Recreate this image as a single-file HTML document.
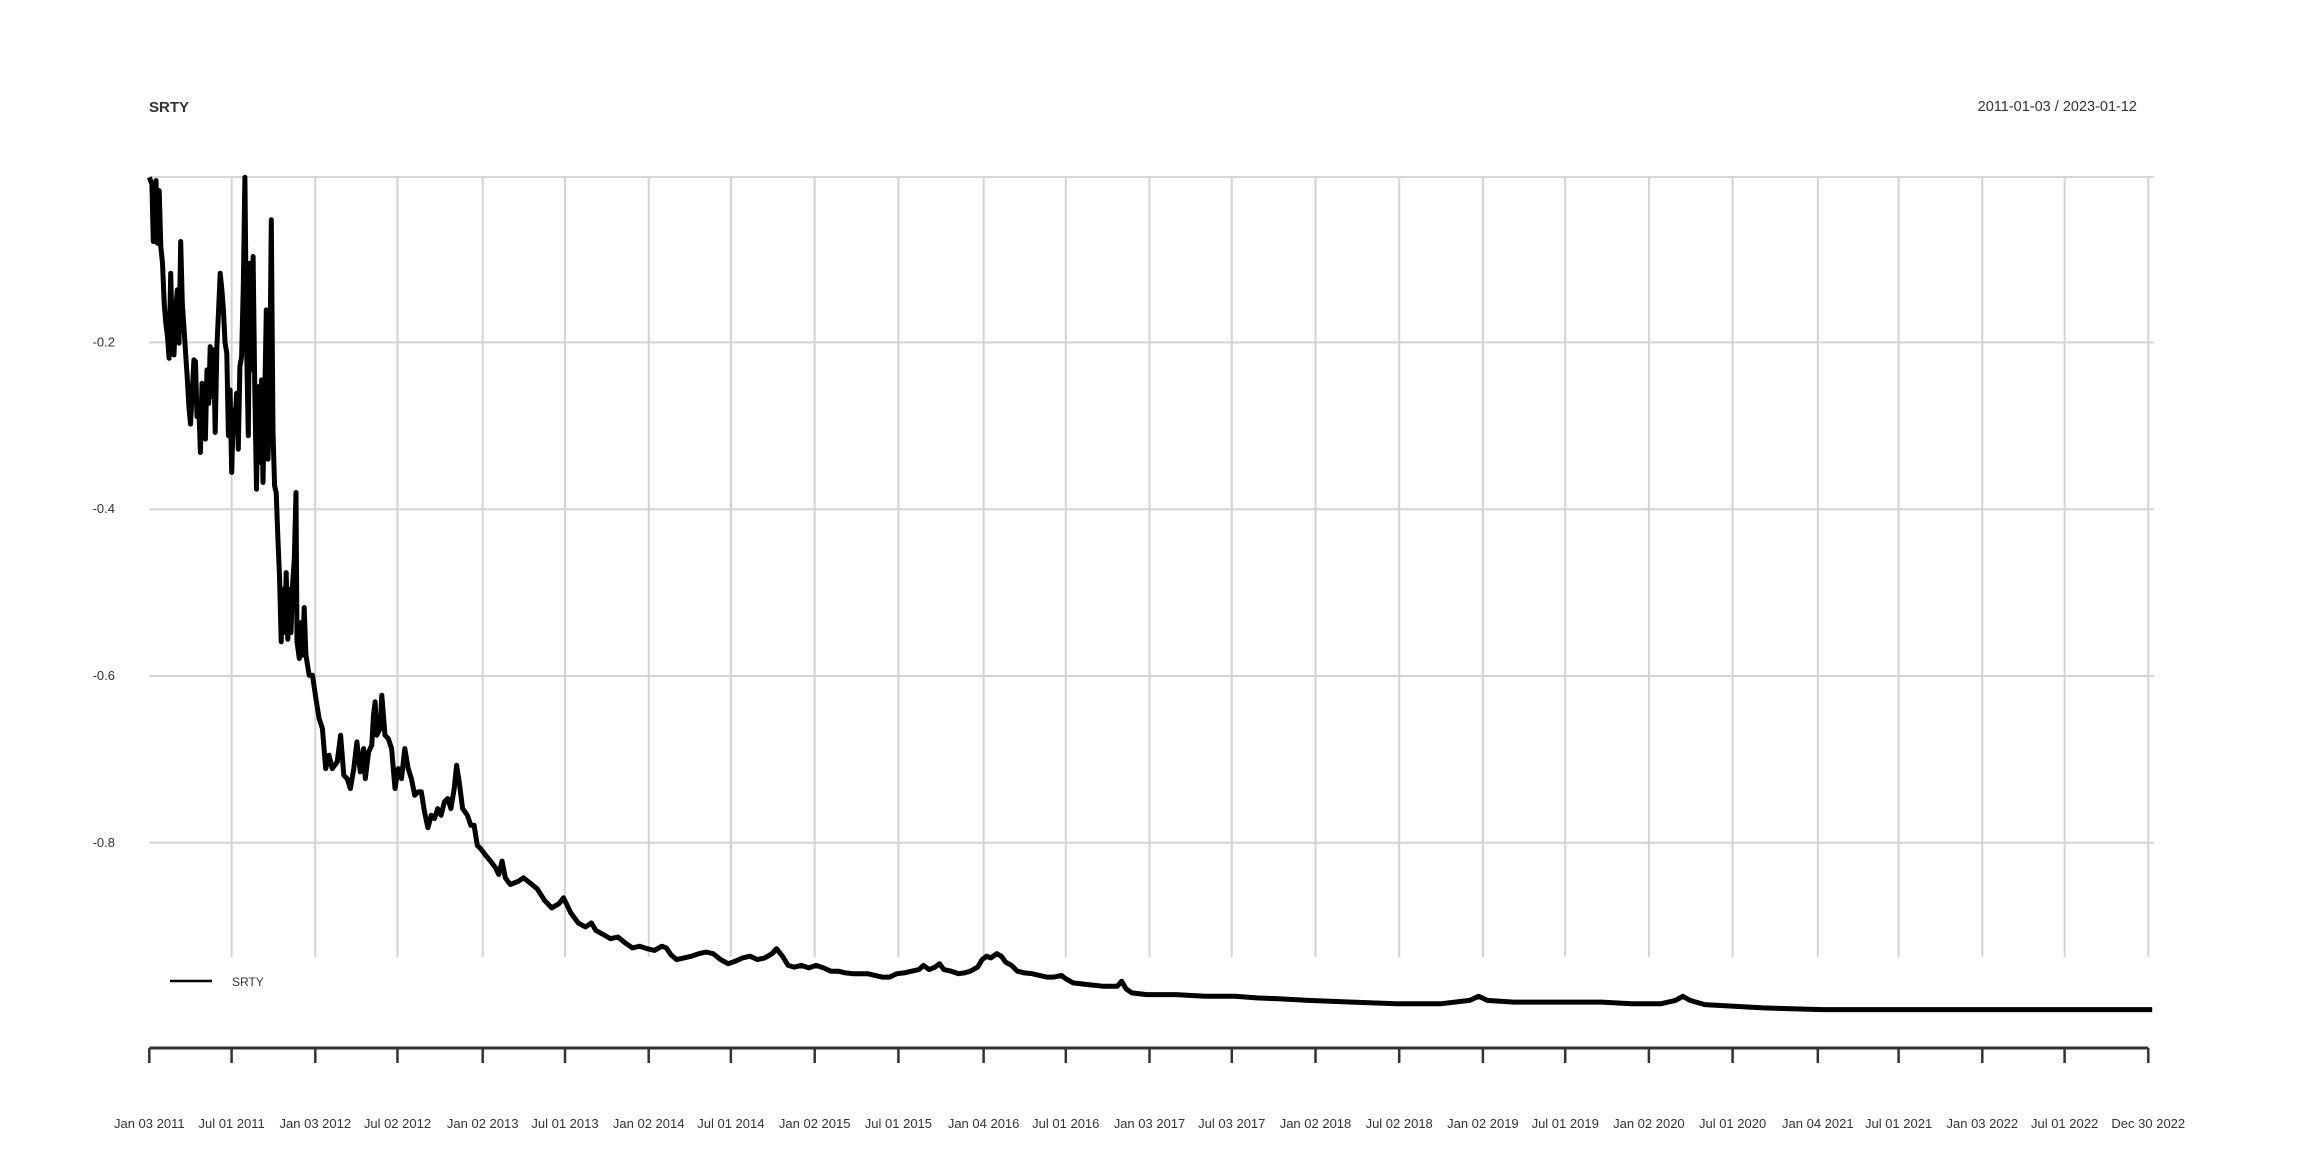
<!DOCTYPE html>
<html><head><meta charset="utf-8"><style>
html,body{margin:0;padding:0;background:#fff;}
svg{display:block;font-family:"Liberation Sans",sans-serif;}
</style></head><body>
<svg id="chart" width="2304" height="1152" viewBox="0 0 2304 1152" xmlns="http://www.w3.org/2000/svg">
<text x="149" y="112" font-size="15" font-weight="bold" fill="#333">SRTY</text>
<text x="2137" y="111" font-size="14.5" fill="#333" text-anchor="end">2011-01-03 / 2023-01-12</text>
<g id="grid"></g>
<g id="yaxis"></g>
<g id="xaxis"></g>
<g id="series"></g>
<g>
<line x1="170" y1="981" x2="212" y2="981" stroke="#000" stroke-width="2.5"/>
<text x="232" y="986" font-size="12" fill="#333">SRTY</text>
</g>
</svg>
<script>
// months since Jan 2011 for each sample
const months = [0,0.19,0.29,0.48,0.59,0.71,0.83,0.95,1.07,1.19,1.31,1.43,1.54,1.66,1.78,1.90,2.02,2.14,2.26,2.38,2.49,2.61,2.73,2.85,2.97,3.09,3.21,3.33,3.44,3.56,3.68,3.80,3.92,4.04,4.16,4.28,4.39,4.51,4.63,4.75,4.87,4.99,5.11,5.23,5.34,5.46,5.58,5.70,5.82,5.94,6.06,6.18,6.29,6.41,6.53,6.65,6.77,6.89,7.01,7.13,7.24,7.36,7.48,7.60,7.72,7.84,7.96,8.08,8.19,8.31,8.43,8.55,8.67,8.79,8.91,9.03,9.14,9.26,9.38,9.50,9.62,9.74,9.86,9.98,10.10,10.21,10.33,10.45,10.57,10.64,10.81,10.93,11.05,11.16,11.28,11.52,11.76,12.00,12.23,12.47,12.71,12.95,13.18,13.54,13.78,14.01,14.25,14.49,14.73,14.96,15.20,15.44,15.56,15.80,16.03,16.15,16.27,16.39,16.63,16.75,16.98,17.22,17.46,17.70,17.93,18.17,18.41,18.65,18.88,19.12,19.36,19.60,19.83,20.07,20.31,20.55,20.78,21.02,21.26,21.50,21.73,21.97,22.14,22.33,22.57,22.92,23.16,23.40,23.63,23.87,24.23,24.58,24.94,25.18,25.42,25.65,26.01,26.60,26.96,27.41,27.94,28.47,28.99,29.52,29.84,30.37,30.90,31.43,31.85,32.17,32.70,33.23,33.76,34.29,34.81,35.34,35.87,36.40,36.93,37.25,37.57,37.99,38.52,39.05,39.58,40.11,40.63,41.16,41.69,42.22,42.75,43.28,43.81,44.34,44.87,45.19,45.61,46.03,46.46,46.98,47.51,48.04,48.57,49.10,49.63,50.16,50.69,51.22,51.75,52.28,52.80,53.33,53.86,54.39,54.92,55.45,55.77,56.19,56.61,56.93,57.25,57.78,58.31,58.73,59.15,59.68,60.00,60.32,60.63,61.06,61.38,61.69,62.12,62.54,63.07,63.60,64.13,64.66,65.19,65.71,66.03,66.56,67.62,68.68,69.74,70.05,70.37,70.79,71.85,73.97,76.08,78.20,79.79,81.38,83.49,86.67,89.84,93.02,95.13,95.77,96.40,98.31,101.48,104.66,106.77,108.89,109.95,110.48,111.01,112.06,114.18,116.30,120.53,126.88,137.46,144.30];
const values = [-0.002,-0.010,-0.079,-0.006,-0.081,-0.018,-0.085,-0.105,-0.153,-0.177,-0.193,-0.219,-0.117,-0.193,-0.215,-0.161,-0.137,-0.201,-0.079,-0.153,-0.181,-0.211,-0.241,-0.277,-0.298,-0.261,-0.221,-0.223,-0.289,-0.273,-0.332,-0.249,-0.304,-0.316,-0.233,-0.273,-0.205,-0.265,-0.209,-0.308,-0.205,-0.161,-0.117,-0.137,-0.161,-0.201,-0.213,-0.312,-0.257,-0.356,-0.281,-0.296,-0.261,-0.328,-0.229,-0.217,-0.133,-0.002,-0.205,-0.312,-0.105,-0.233,-0.097,-0.257,-0.376,-0.253,-0.344,-0.245,-0.368,-0.277,-0.161,-0.340,-0.265,-0.053,-0.308,-0.372,-0.380,-0.432,-0.480,-0.559,-0.496,-0.548,-0.476,-0.556,-0.496,-0.548,-0.488,-0.460,-0.380,-0.559,-0.579,-0.536,-0.575,-0.518,-0.575,-0.599,-0.599,-0.627,-0.651,-0.663,-0.711,-0.695,-0.711,-0.703,-0.671,-0.719,-0.723,-0.735,-0.711,-0.679,-0.715,-0.687,-0.723,-0.691,-0.683,-0.647,-0.631,-0.671,-0.663,-0.623,-0.671,-0.675,-0.687,-0.735,-0.711,-0.723,-0.687,-0.711,-0.723,-0.743,-0.739,-0.739,-0.763,-0.782,-0.767,-0.771,-0.759,-0.767,-0.751,-0.747,-0.759,-0.735,-0.707,-0.727,-0.759,-0.767,-0.779,-0.779,-0.803,-0.807,-0.815,-0.822,-0.830,-0.838,-0.822,-0.842,-0.850,-0.846,-0.842,-0.848,-0.855,-0.869,-0.878,-0.873,-0.866,-0.884,-0.896,-0.901,-0.896,-0.905,-0.910,-0.915,-0.913,-0.920,-0.926,-0.924,-0.927,-0.929,-0.924,-0.926,-0.934,-0.940,-0.938,-0.936,-0.933,-0.931,-0.933,-0.940,-0.945,-0.942,-0.938,-0.936,-0.940,-0.938,-0.933,-0.927,-0.936,-0.947,-0.949,-0.947,-0.950,-0.947,-0.950,-0.954,-0.954,-0.956,-0.957,-0.957,-0.957,-0.959,-0.961,-0.961,-0.957,-0.956,-0.954,-0.952,-0.947,-0.952,-0.949,-0.945,-0.952,-0.954,-0.957,-0.956,-0.954,-0.949,-0.940,-0.936,-0.938,-0.933,-0.936,-0.943,-0.947,-0.954,-0.956,-0.957,-0.959,-0.961,-0.961,-0.959,-0.963,-0.968,-0.970,-0.972,-0.972,-0.966,-0.975,-0.980,-0.982,-0.982,-0.984,-0.984,-0.986,-0.987,-0.989,-0.991,-0.993,-0.993,-0.989,-0.984,-0.989,-0.991,-0.991,-0.991,-0.993,-0.993,-0.989,-0.984,-0.989,-0.994,-0.996,-0.998,-1.000,-1.000,-1.000,-1.000];
const yTicks = [-0.2,-0.4,-0.6,-0.8];
const yTickLabels = ["-0.2","-0.4","-0.6","-0.8"];
const xTickLabels = ["Jan 03 2011","Jul 01 2011","Jan 03 2012","Jul 02 2012","Jan 02 2013","Jul 01 2013","Jan 02 2014","Jul 01 2014","Jan 02 2015","Jul 01 2015","Jan 04 2016","Jul 01 2016","Jan 03 2017","Jul 03 2017","Jan 02 2018","Jul 02 2018","Jan 02 2019","Jul 01 2019","Jan 02 2020","Jul 01 2020","Jan 04 2021","Jul 01 2021","Jan 03 2022","Jul 01 2022","Dec 30 2022"];
const xTickMonths = [0,5.93,11.96,17.88,24.02,29.95,35.98,41.9,47.94,53.97,60.11,66.03,72.06,77.99,84.02,90.05,96.08,102.01,108.04,114.07,120.21,126.03,132.06,137.99,144.02];

const NS="http://www.w3.org/2000/svg";
const X0=149.3, XPER=13.88, Y0=175.6, YK=834;
const PT=177, PB=957, PR=2154, AY=1048;
function xs(m){return X0+m*XPER;}
function ys(v){return Y0-v*YK;}
function mk(tag,attrs,parent){const e=document.createElementNS(NS,tag);for(const k in attrs)e.setAttribute(k,attrs[k]);parent.appendChild(e);return e;}
const grid=document.getElementById('grid'), ya=document.getElementById('yaxis'), xa=document.getElementById('xaxis'), se=document.getElementById('series');
mk('line',{x1:X0,y1:PT,x2:PR,y2:PT,stroke:'#c8c8c8','stroke-width':1.5},grid);
yTicks.forEach((v,i)=>{
  const l=mk('line',{x1:X0,y1:ys(v),x2:PR,y2:ys(v),stroke:'#d3d3d3','stroke-width':2},grid);
  
  
  const t=mk('text',{x:115,y:ys(v)+4,'font-size':13,fill:'#333','text-anchor':'end'},ya);
  t.textContent=yTickLabels[i];
  
  
});
mk('line',{x1:X0,y1:AY,x2:xs(xTickMonths[xTickMonths.length-1]),y2:AY,stroke:'#333','stroke-width':3},xa);
xTickMonths.forEach((m,i)=>{
  const x=xs(m);
  if(i>0){
    const g=mk('line',{x1:x,y1:PT,x2:x,y2:PB,stroke:'#d3d3d3','stroke-width':2},grid);
    
    
  }
  const tk=mk('line',{x1:x,y1:AY,x2:x,y2:1063,stroke:'#333','stroke-width':2.5},xa);
  
  
  const t=mk('text',{x:x,y:1128,'font-size':13,fill:'#333','text-anchor':'middle'},xa);
  t.textContent=xTickLabels[i];
  
  
});
let d='';
months.forEach((m,i)=>{d+=(i?'L':'M')+xs(m).toFixed(1)+','+ys(values[i]).toFixed(1);});
const p=mk('path',{d:d,fill:'none',stroke:'#000','stroke-width':5,'stroke-linejoin':'round'},se);


</script>
</body></html>
